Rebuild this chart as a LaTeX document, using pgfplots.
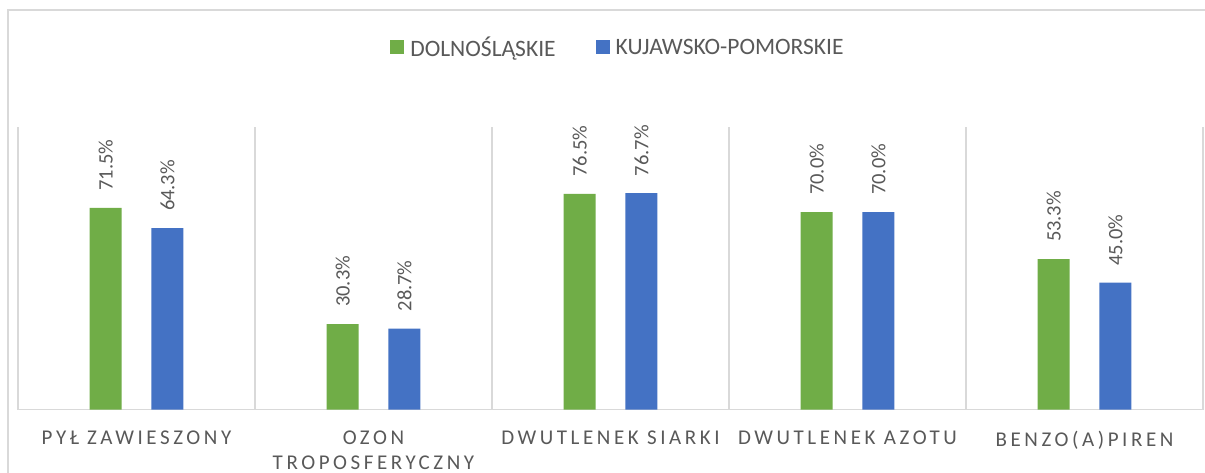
\documentclass[border=0pt]{standalone}
\usepackage{pgfplots}
\pgfplotsset{compat=1.18}
\usepackage{fontspec}
\setmainfont{Carlito}
\definecolor{dgreen}{HTML}{70AD47}
\definecolor{dblue}{HTML}{4472C4}
\definecolor{tgray}{HTML}{595959}
\definecolor{lgray}{HTML}{D9D9D9}
\begin{document}
\begin{tikzpicture}
\useasboundingbox (0,0) rectangle (1205bp,473bp);
\fill[white] (0,0) rectangle (1205bp,473bp);
\draw[lgray, line width=1.5bp] (8bp,-5bp) -- (8bp,463bp) -- (1215bp,463bp);
\begin{axis}[
  at={(18bp,63.5bp)}, anchor=south west,
  scale only axis, width=1185bp, height=282bp,
  xmin=-0.5, xmax=4.5, ymin=0, ymax=100,
  axis y line=none, axis x line*=bottom,
  x axis line style={lgray, line width=1.5bp, -},
  xtick={0,1,2,3,4}, major tick length=0pt,
  minor xtick={-0.5,0.5,1.5,2.5,3.5,4.5}, minor tick length=0pt,
  xminorgrids, minor grid style={lgray, line width=1.5bp},
  xticklabels={{PYŁ ZAWIESZONY},{OZON\\TROPOSFERYCZNY},{DWUTLENEK SIARKI},{DWUTLENEK AZOTU},{BENZO(A)PIREN}},
  xticklabel style={font=\fontsize{21bp}{25bp}\selectfont\addfontfeature{LetterSpace=17}, text=tgray, align=center, anchor=north, inner sep=0pt, yshift=-21bp},
  ybar, bar width=32bp,
  nodes near coords={\pgfmathprintnumber[fixed,fixed zerofill,precision=1,assume math mode=true]{\pgfplotspointmeta}\%},
  nodes near coords style={rotate=90, anchor=west, inner sep=0pt, inner xsep=17bp, font=\fontsize{20.5bp}{24bp}\selectfont, text=tgray},
  legend style={at={(0.5063,1.285)}, anchor=center, draw=none, fill=none, legend columns=2, font=\fontsize{23.5bp}{27bp}\selectfont, text=tgray, /tikz/every even column/.append style={column sep=38bp}, inner sep=0pt},
  legend image code/.code={\fill[#1] (0bp,-7bp) rectangle (14bp,7bp); \path (18bp,0bp);},
]
\addplot[fill=dgreen, draw=none, bar shift=-30.9bp] coordinates {(0,71.5) (1,30.3) (2,76.5) (3,70.0) (4,53.3)};
\addplot[fill=dblue, draw=none, bar shift=30.9bp] coordinates {(0,64.3) (1,28.7) (2,76.7) (3,70.0) (4,45.0)};
\legend{DOLNOŚLĄSKIE, KUJAWSKO-POMORSKIE}
\end{axis}
\end{tikzpicture}
\end{document}
